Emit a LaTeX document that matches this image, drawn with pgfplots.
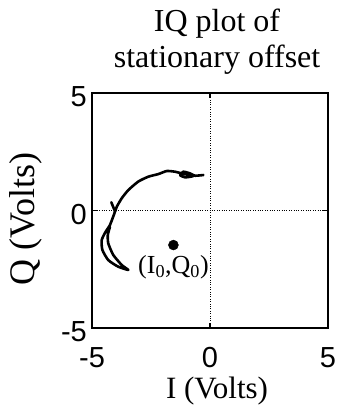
\documentclass[border=0pt]{standalone}
\usepackage{fontspec}
\setmainfont{Liberation Serif}
\newfontfamily\sansf{Liberation Sans}
\usepackage{pgfplots}
\pgfplotsset{compat=1.18}
\begin{document}
\begin{tikzpicture}
\begin{axis}[
  name=ax,
  scale only axis,
  width=236pt, height=235pt,
  xmin=-5, xmax=5, ymin=-5, ymax=5,
  xtick={-5,0,5}, ytick={-5,0,5},
  tick align=inside,
  major tick length=5pt,
  axis line style={line width=2.2pt},
  every tick/.style={black, line width=1.2pt},
  grid=major,
  major grid style={black, dotted, line width=0.9pt},
  /pgf/number format/assume math mode=true,
  ticklabel style={font=\sansf\fontsize{29}{31}\selectfont},
  xticklabel style={anchor=north, inner sep=0pt, yshift=-19pt},
  yticklabel style={anchor=east, inner sep=0pt, xshift=-5pt, yshift=-4pt},
  clip=false,
]
\addplot[black, line width=2.6pt, smooth, tension=0.35, line join=round, line cap=round] coordinates {
(-0.28,1.51) (-0.64,1.48) (-0.85,1.58) (-1.13,1.65) (-1.27,1.51) (-1.06,1.41) (-0.71,1.47) (-1.20,1.58) (-1.48,1.65) (-1.83,1.68) (-2.19,1.55) (-2.61,1.44) (-3.04,1.23) (-3.46,0.87) (-3.74,0.52) (-3.95,0.16) (-4.05,-0.12) (-4.24,-0.62) (-4.42,-0.90) (-4.59,-1.26) (-4.56,-1.68) (-4.31,-2.11) (-3.89,-2.39) (-3.46,-2.53) (-3.74,-2.32) (-4.10,-1.89) (-4.31,-1.40) (-4.33,-1.04) (-4.24,-0.70)
};
\addplot[black, line width=2.6pt, line cap=round] coordinates {(-4.02,-0.05) (-4.18,0.35)};
\addplot[black, only marks, mark=*, mark size=5pt] coordinates {(-1.55,-1.47)};
\node[anchor=west, inner sep=0pt, font=\fontsize{26}{28}\selectfont] at (axis cs:-3.05,-2.43) {(I\textsubscript{0},Q\textsubscript{0})};
\node[anchor=base, inner sep=0pt, yshift=61pt, font=\fontsize{32}{34}\selectfont] at (axis description cs:0.53,1) {IQ plot of};
\node[anchor=base, inner sep=0pt, yshift=25pt, font=\fontsize{32}{34}\selectfont] at (axis description cs:0.53,1) {stationary offset};
\node[anchor=base, inner sep=0pt, yshift=-70pt, font=\fontsize{31}{33}\selectfont] at (axis description cs:0.53,0) {I (Volts)};
\node[xshift=-57pt, rotate=90, anchor=base, inner sep=0pt, font=\fontsize{36}{38}\selectfont] at (axis description cs:0,0.464) {Q (Volts)};
\end{axis}
\pgfresetboundingbox
\useasboundingbox ([xshift=-92pt,yshift=-77pt]ax.south west) rectangle ([xshift=14pt,yshift=93pt]ax.north east);
\end{tikzpicture}
\end{document}
